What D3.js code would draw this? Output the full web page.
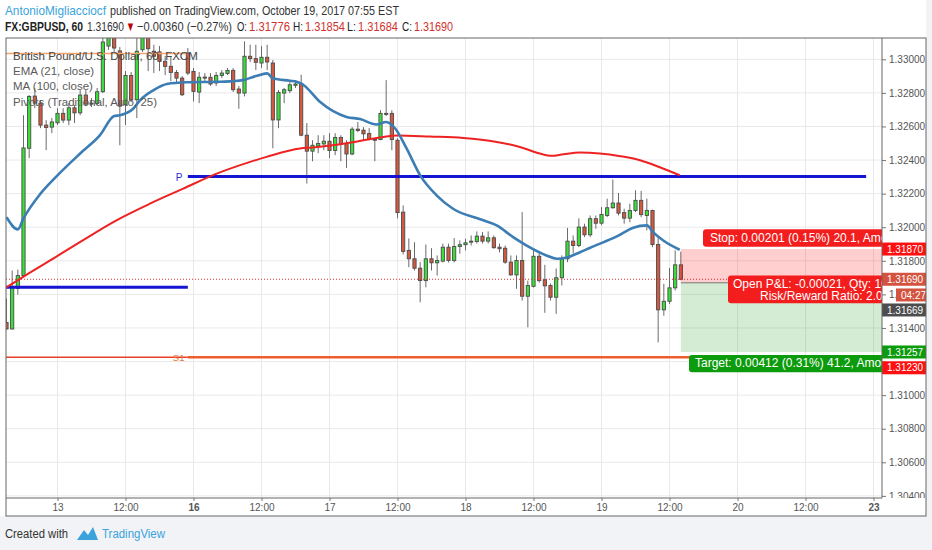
<!DOCTYPE html>
<html>
<head>
<meta charset="utf-8">
<script src="https://cdnjs.cloudflare.com/ajax/libs/d3/7.8.5/d3.min.js"></script>
<style>
  body { margin: 0; background: #f1f3f6; }
  svg { display: block; font-family: "Liberation Sans", Arial, sans-serif; }
</style>
</head>
<body>
<svg id="chart" width="932" height="550"></svg>
<script>
const width = 932;
const height = 550;


/*
* DATA (hourly GBPUSD bars, bar 0 = 13th 00:00)
*/

const firstBar = -9;

const opens = [
  1.31433, 1.31394, 1.31635, 1.31712, 1.32470, 1.32781, 1.32739, 1.32608, 1.32596,
  1.32622, 1.32678, 1.32638, 1.32711, 1.32681, 1.32787, 1.32733, 1.32737, 1.32807, 1.33079,
  1.33175, 1.33050, 1.32729, 1.32904, 1.32759, 1.33057, 1.33145, 1.33048, 1.33044, 1.32988,
  1.32958, 1.32922, 1.32888, 1.33038, 1.32928, 1.32805, 1.32888, 1.32893, 1.32859, 1.32904,
  1.32916, 1.32934, 1.32823, 1.32799, 1.33018, 1.33004, 1.32978, 1.33012, 1.32978, 1.32639,
  1.32799, 1.32813, 1.32845, 1.32857, 1.32548, 1.32453, 1.32484, 1.32496, 1.32512, 1.32457,
  1.32534, 1.32499, 1.32436, 1.32584, 1.32578, 1.32558, 1.32524, 1.32522, 1.32672, 1.32678,
  1.32518, 1.32090, 1.31862, 1.31812, 1.31756, 1.31682, 1.31812, 1.31788, 1.31798, 1.31881,
  1.31802, 1.31885, 1.31896, 1.31911, 1.31915, 1.31947, 1.31917, 1.31937, 1.31881, 1.31875,
  1.31792, 1.31716, 1.31802, 1.31589, 1.31648, 1.31827, 1.31687, 1.31653, 1.31583, 1.31699,
  1.31812, 1.31917, 1.31891, 1.32001, 1.31955, 1.32051, 1.32024, 1.32070, 1.32116, 1.32144,
  1.32087, 1.32054, 1.32100, 1.32160, 1.32070, 1.32100, 1.31897, 1.31508, 1.31559, 1.31639,
  1.31776
];

const highs = [
  1.31575, 1.31742, 1.31748, 1.32667, 1.32787, 1.32829, 1.32757, 1.32638, 1.32650,
  1.32709, 1.32709, 1.32739, 1.32727, 1.32817, 1.32817, 1.32769, 1.32829, 1.33139, 1.33205,
  1.33205, 1.33073, 1.32930, 1.32924, 1.33127, 1.33175, 1.33175, 1.33087, 1.33079, 1.33020,
  1.33020, 1.32936, 1.32900, 1.33067, 1.32948, 1.32924, 1.32918, 1.32918, 1.32924, 1.32936,
  1.32948, 1.32948, 1.32841, 1.33107, 1.33087, 1.33087, 1.33079, 1.33087, 1.32996, 1.32817,
  1.32829, 1.32864, 1.32876, 1.32908, 1.32620, 1.32518, 1.32548, 1.32548, 1.32560, 1.32560,
  1.32548, 1.32518, 1.32596, 1.32627, 1.32596, 1.32590, 1.32530, 1.32697, 1.32876, 1.32697,
  1.32530, 1.32130, 1.31933, 1.31911, 1.31792, 1.31897, 1.31875, 1.31832, 1.31902, 1.31902,
  1.31935, 1.31921, 1.31931, 1.31951, 1.31975, 1.31971, 1.31975, 1.31951, 1.31903, 1.31891,
  1.31832, 1.31832, 1.32090, 1.31682, 1.31873, 1.31850, 1.31776, 1.31665, 1.31754, 1.31832,
  1.31996, 1.31951, 1.32053, 1.32021, 1.32070, 1.32070, 1.32120, 1.32170, 1.32284, 1.32204,
  1.32110, 1.32140, 1.32220, 1.32216, 1.32170, 1.32104, 1.31951, 1.31663, 1.31758, 1.31862,
  1.31854
];

const lows = [
  1.31390, 1.31390, 1.31599, 1.31706, 1.32411, 1.32709, 1.32590, 1.32459, 1.32560,
  1.32608, 1.32620, 1.32608, 1.32620, 1.32667, 1.32721, 1.32715, 1.32727, 1.32799, 1.33056,
  1.33044, 1.32488, 1.32608, 1.32745, 1.32650, 1.33044, 1.32930, 1.32918, 1.32930, 1.32906,
  1.32870, 1.32859, 1.32781, 1.32906, 1.32749, 1.32739, 1.32864, 1.32841, 1.32841, 1.32888,
  1.32906, 1.32805, 1.32705, 1.32779, 1.32984, 1.32936, 1.32948, 1.32936, 1.32470, 1.32590,
  1.32739, 1.32799, 1.32829, 1.32542, 1.32260, 1.32393, 1.32441, 1.32459, 1.32411, 1.32429,
  1.32393, 1.32353, 1.32429, 1.32566, 1.32518, 1.32518, 1.32393, 1.32518, 1.32662, 1.32459,
  1.32053, 1.31838, 1.31762, 1.31742, 1.31553, 1.31642, 1.31742, 1.31712, 1.31790, 1.31790,
  1.31790, 1.31842, 1.31862, 1.31891, 1.31903, 1.31903, 1.31903, 1.31872, 1.31850, 1.31782,
  1.31712, 1.31633, 1.31563, 1.31404, 1.31641, 1.31670, 1.31490, 1.31563, 1.31484, 1.31653,
  1.31792, 1.31844, 1.31881, 1.31941, 1.31941, 1.31991, 1.32011, 1.32060, 1.32110, 1.32070,
  1.32021, 1.32030, 1.32090, 1.32060, 1.31981, 1.31881, 1.31314, 1.31473, 1.31543, 1.31623,
  1.31684
];

const closes = [
  1.31394, 1.31642, 1.31712, 1.32472, 1.32779, 1.32739, 1.32608, 1.32594, 1.32627,
  1.32678, 1.32638, 1.32711, 1.32681, 1.32787, 1.32733, 1.32739, 1.32807, 1.33103, 1.33175,
  1.33067, 1.32721, 1.32904, 1.32759, 1.33048, 1.33145, 1.33063, 1.33018, 1.32988, 1.32958,
  1.32922, 1.32888, 1.32789, 1.32918, 1.32809, 1.32893, 1.32894, 1.32853, 1.32904, 1.32918,
  1.32934, 1.32819, 1.32799, 1.33018, 1.33004, 1.32982, 1.33012, 1.32984, 1.32639, 1.32803,
  1.32819, 1.32848, 1.32853, 1.32548, 1.32453, 1.32488, 1.32499, 1.32512, 1.32457, 1.32534,
  1.32493, 1.32436, 1.32584, 1.32576, 1.32556, 1.32522, 1.32518, 1.32678, 1.32678, 1.32522,
  1.32087, 1.31856, 1.31812, 1.31756, 1.31682, 1.31812, 1.31788, 1.31802, 1.31881, 1.31802,
  1.31885, 1.31896, 1.31907, 1.31917, 1.31947, 1.31917, 1.31937, 1.31878, 1.31872, 1.31792,
  1.31716, 1.31802, 1.31589, 1.31653, 1.31827, 1.31682, 1.31651, 1.31583, 1.31699, 1.31812,
  1.31917, 1.31891, 1.32001, 1.31955, 1.32051, 1.32024, 1.32076, 1.32116, 1.32144, 1.32084,
  1.32054, 1.32100, 1.32160, 1.32075, 1.32100, 1.31897, 1.31508, 1.31559, 1.31639, 1.31776,
  1.31690
];

// EMA (21) at these bars
const emaBars = [-9, -7, -6, -3, 0, 4, 7.5, 10, 11, 13.4, 14.6, 17, 19.3, 22.8, 28, 31, 32.7,
  35, 37, 38, 41, 42.2, 43.4, 46.3, 51, 53.4, 56.3, 58, 59.6, 61.6, 64, 66.9, 69.8, 74.6,
  77.5, 80.4, 82.8, 86.3, 88.1, 89.9, 92.2, 94, 98.7, 101.6, 104, 105.1, 106.9, 109.8];
const emaValues = [1.32060, 1.31987, 1.32053, 1.32200, 1.32309, 1.32439, 1.32548, 1.32662,
  1.32667, 1.32707, 1.32757, 1.32817, 1.32853, 1.32863, 1.32866, 1.32870, 1.32876, 1.32900,
  1.32916, 1.32887, 1.32872, 1.32866, 1.32847, 1.32747, 1.32657, 1.32644, 1.32612, 1.32627,
  1.32588, 1.32469, 1.32309, 1.32190, 1.32110, 1.32047, 1.32011, 1.31941, 1.31891, 1.31832,
  1.31812, 1.31820, 1.31851, 1.31878, 1.31945, 1.31997, 1.32011, 1.31971, 1.31921, 1.31866];

// MA (100)
const maBars = [-9, -5.7, -1.3, 4.6, 10.4, 16.3, 22.2, 28.1, 34, 36.9, 42.8, 45.1, 51, 56.9,
  59.9, 65.7, 71.6, 77.5, 81.6, 85.1, 87.2, 89.3, 92.2, 95.7, 99.3, 102.8, 106.3, 109.8];
const maValues = [1.31642, 1.31712, 1.31802, 1.31925, 1.32041, 1.32140, 1.32230, 1.32319,
  1.32389, 1.32419, 1.32469, 1.32475, 1.32500, 1.32534, 1.32546, 1.32540, 1.32532, 1.32508,
  1.32478, 1.32439, 1.32425, 1.32435, 1.32445, 1.32439, 1.32423, 1.32399, 1.32357, 1.32309];

const timeTicks = [0, 12, 24, 36, 48, 60, 72, 84, 96, 108, 120, 132, 144];
const timeLabels = ["13", "12:00", "16", "12:00", "17", "12:00", "18", "12:00", "19",
  "12:00", "20", "12:00", "23"];
const boldLabels = ["16", "23"];

const priceTicks = [1.304, 1.306, 1.308, 1.310, 1.312, 1.314, 1.316, 1.318, 1.320, 1.322,
  1.324, 1.326, 1.328, 1.330];
const hiddenTicks = [1.312];   // fully covered by the S1 tag

// pivots: previous period ends / current period starts at pivotSwitchBar
const pivotSwitchBar = 23;
const pivotEndBar = 142.7;
const prevPivotP = 1.31642;
const prevPivotR = 1.33035;
const pivotP = 1.32302;
const pivotS1 = 1.31226;

// short position tool
const positionBar = 110;
const lastPrice = 1.31690;
const entryPrice = 1.31669;
const stopPrice = 1.31870;
const targetPrice = 1.31257;
const s1Tag = 1.31230;


/*
* LAYOUT
*/

const pane = { left: 6, top: 38, right: 882, bottom: 498 };
const frame = { right: 926, bottom: 516 };

const x = d3.scaleLinear().domain([0, 144]).range([57.5, 873.5]);
const y = d3.scaleLinear().domain([1.306, 1.330]).range([462.3, 59.3]);

const svg = d3.select("svg#chart");

svg.append("rect").attr("x", 0).attr("y", 0).attr("width", frame.right).attr("height", frame.bottom).attr("fill", "#fff");

const defs = svg.append("defs");
defs.append("clipPath").attr("id", "pane-clip").append("rect")
  .attr("x", pane.left).attr("y", pane.top)
  .attr("width", pane.right - pane.left).attr("height", pane.bottom - pane.top);
defs.append("clipPath").attr("id", "axis-clip").append("rect")
  .attr("x", pane.right).attr("y", pane.top)
  .attr("width", frame.right - pane.right).attr("height", pane.bottom - pane.top);

const bars = opens.map((o, k) => ({
  i: firstBar + k, o: o, h: highs[k], l: lows[k], c: closes[k]
}));


/* GRID */
const grid = svg.append("g").attr("id", "grid");
grid.selectAll("line.v").data(timeTicks).enter().append("line")
  .attr("x1", d => x(d)).attr("x2", d => x(d))
  .attr("y1", pane.top).attr("y2", pane.bottom)
  .attr("stroke", "#e9e9e9");
grid.selectAll("line.h").data(priceTicks).enter().append("line")
  .attr("x1", pane.left).attr("x2", pane.right)
  .attr("y1", d => y(d)).attr("y2", d => y(d))
  .attr("stroke", "#e9e9e9");

const plot = svg.append("g").attr("clip-path", "url(#pane-clip)");


/* CANDLES */
const bodyW = 3.2;
const candles = plot.append("g").attr("id", "candles");
candles.selectAll("line").data(bars).enter().append("line")
  .attr("x1", d => x(d.i)).attr("x2", d => x(d.i))
  .attr("y1", d => y(d.h)).attr("y2", d => y(d.l))
  .attr("stroke", "#6b6b6b").attr("stroke-width", 1);
candles.selectAll("rect").data(bars).enter().append("rect")
  .attr("x", d => x(d.i) - bodyW / 2)
  .attr("y", d => y(Math.max(d.o, d.c)))
  .attr("width", bodyW)
  .attr("height", d => Math.max(1, Math.abs(y(d.o) - y(d.c))))
  .attr("fill", d => d.c >= d.o ? "#38e038" : "#d5583f")
  .attr("stroke", "#4a4a4a").attr("stroke-width", 0.9);


/* PIVOTS */
const pivots = plot.append("g").attr("id", "pivots");
function hline(p, b0, b1, color, w) {
  pivots.append("line")
    .attr("x1", b0 === null ? pane.left : x(b0)).attr("x2", x(b1))
    .attr("y1", y(p)).attr("y2", y(p))
    .attr("stroke", color).attr("stroke-width", w);
}
hline(prevPivotR, null, pivotSwitchBar, "#f2a36b", 1.5);
hline(prevPivotP, null, pivotSwitchBar, "#1414d2", 3);
hline(pivotS1, null, pivotSwitchBar, "#e8402a", 1.5);
hline(pivotP, pivotSwitchBar, pivotEndBar, "#1414d2", 3);
hline(pivotS1, pivotSwitchBar, pivotEndBar, "#ec5e2c", 2.5);

pivots.append("text").attr("x", x(pivotSwitchBar) - 12).attr("y", y(pivotP) + 4)
  .attr("font-size", 10).attr("fill", "#2a2ad0").text("P");
pivots.append("text").attr("x", x(pivotSwitchBar) - 15).attr("y", y(pivotS1) + 4)
  .attr("font-size", 9.5).attr("fill", "#e8783a").text("S1");


/* MOVING AVERAGES */
const line = d3.line().x(d => x(d[0])).y(d => y(d[1])).curve(d3.curveMonotoneX);
plot.append("path").datum(maBars.map((b, k) => [b, maValues[k]]))
  .attr("d", line).attr("fill", "none").attr("stroke", "#ee2222").attr("stroke-width", 2);
plot.append("path").datum(emaBars.map((b, k) => [b, emaValues[k]]))
  .attr("d", line).attr("fill", "none").attr("stroke", "#3b7db4").attr("stroke-width", 2.6);


/* LAST PRICE LINE */
plot.append("line")
  .attr("x1", pane.left).attr("x2", pane.right)
  .attr("y1", y(lastPrice)).attr("y2", y(lastPrice))
  .attr("stroke", "#e03030").attr("stroke-width", 1).attr("stroke-dasharray", "1,2");


/* POSITION TOOL */
const pos = plot.append("g").attr("id", "position");
pos.append("rect")
  .attr("x", x(positionBar)).attr("y", y(stopPrice))
  .attr("width", pane.right - x(positionBar)).attr("height", y(entryPrice) - y(stopPrice))
  .attr("fill", "#ff0000").attr("fill-opacity", 0.19);
pos.append("rect")
  .attr("x", x(positionBar)).attr("y", y(entryPrice))
  .attr("width", pane.right - x(positionBar)).attr("height", y(targetPrice) - y(entryPrice))
  .attr("fill", "#22a022").attr("fill-opacity", 0.2);
pos.append("line")
  .attr("x1", x(positionBar)).attr("x2", pane.right)
  .attr("y1", y(entryPrice)).attr("y2", y(entryPrice))
  .attr("stroke", "#777").attr("stroke-width", 1);

function tag(g, x0, y0, h, color, lines, tx) {
  g.append("rect").attr("x", x0).attr("y", y0).attr("width", 260).attr("height", h)
    .attr("rx", 3).attr("fill", color);
  lines.forEach((t, k) => {
    g.append("text").attr("x", tx[k]).attr("y", y0 + 12.5 + k * 12.5)
      .attr("font-size", 12).attr("fill", "#fff").text(t);
  });
}
tag(pos, 703, y(stopPrice) - 19.7, 17.4, "#f41d1d",
  ["Stop: 0.00201 (0.15%) 20.1, Amount: 2.01"], [710]);
tag(pos, 728, y(entryPrice) - 7.3, 27.7, "#f41d1d",
  ["Open P&L: -0.00021, Qty: 1000", "Risk/Reward Ratio: 2.05"], [733, 760]);
tag(pos, 689, y(targetPrice) + 3, 17.2, "#0c9b0c",
  ["Target: 0.00412 (0.31%) 41.2, Amount: 4.12"], [695]);


/* PRICE AXIS */
const yAxis = d3.axisRight(y).tickValues(priceTicks)
  .tickFormat(d => hiddenTicks.includes(d) ? "" : d3.format(".5f")(d))
  .tickSize(4).tickPadding(3);
const yGroup = svg.append("g").attr("clip-path", "url(#axis-clip)")
  .append("g").attr("transform", translate(pane.right, 0)).call(yAxis);
yGroup.select(".domain").remove();
yGroup.selectAll(".tick line").attr("stroke", "#777");
yGroup.selectAll(".tick text").attr("fill", "#555").attr("font-size", 10)
  .attr("font-family", "Liberation Sans, Arial, sans-serif");

const tags = svg.append("g").attr("id", "price-tags");
function priceTag(cy, label, color, x0) {
  tags.append("rect").attr("x", x0 || pane.right).attr("y", cy - 6.5)
    .attr("width", frame.right - (x0 || pane.right)).attr("height", 13).attr("fill", color);
  tags.append("text").attr("x", (x0 || pane.right) + 5).attr("y", cy + 3.6)
    .attr("font-size", 10).attr("fill", "#fff").text(label);
}
priceTag(y(stopPrice), d3.format(".5f")(stopPrice), "#ff1010");
priceTag(y(lastPrice), d3.format(".5f")(lastPrice), "#d4533f");
priceTag(y(lastPrice) + 15.7, "04:27", "#d4533f", 896);
priceTag(y(lastPrice) + 30.7, d3.format(".5f")(entryPrice), "#4d4d4d");
priceTag(y(targetPrice), d3.format(".5f")(targetPrice), "#0c9b0c");
priceTag(y(targetPrice) + 15.8, d3.format(".5f")(s1Tag), "#ff1010");


/* TIME AXIS */
const xAxis = d3.axisBottom(x).tickValues(timeTicks).tickFormat((d, k) => timeLabels[k])
  .tickSize(3).tickPadding(3);
const xGroup = svg.append("g").attr("transform", translate(0, pane.bottom)).call(xAxis);
xGroup.select(".domain").remove();
xGroup.selectAll(".tick line").attr("stroke", "#777");
xGroup.selectAll(".tick text").attr("fill", "#555").attr("font-size", 10)
  .attr("font-family", "Liberation Sans, Arial, sans-serif")
  .attr("font-weight", d => boldLabels.includes(timeLabels[timeTicks.indexOf(d)]) ? "bold" : "normal");


/* FRAME */
svg.append("rect").attr("x", pane.left).attr("y", pane.top)
  .attr("width", frame.right - pane.left).attr("height", frame.bottom - pane.top)
  .attr("fill", "none").attr("stroke", "#666");
svg.append("line").attr("x1", pane.right).attr("x2", pane.right)
  .attr("y1", pane.top).attr("y2", pane.bottom).attr("stroke", "#666");
svg.append("line").attr("x1", pane.left).attr("x2", pane.right)
  .attr("y1", pane.bottom).attr("y2", pane.bottom).attr("stroke", "#666");


/* LEGEND */
const legend = svg.append("g").attr("font-size", 11.5);
const legendLines = ["British Pound/U.S. Dollar, 60, FXCM", "EMA (21, close)",
  "MA (100, close)", "Pivots (Traditional, Auto, 25)"];
legend.selectAll("text").data(legendLines).enter().append("text")
  .attr("x", 13).attr("y", (d, k) => 59.5 + k * 15.4)
  .attr("fill", (d, k) => k === 0 ? "#444" : "#5a5a5a")
  .text(d => d);


/* HEADER */
const head = svg.append("g").attr("font-family", "'Liberation Sans Narrow', 'Liberation Sans', sans-serif");
function headText(t, x0, y0, w, color, bold, size) {
  head.append("text").attr("x", x0).attr("y", y0)
    .attr("font-size", size || 13).attr("fill", color)
    .attr("font-weight", bold ? "bold" : "normal")
    .attr("textLength", w).attr("lengthAdjust", "spacingAndGlyphs").text(t);
}
headText("AntonioMigliacciocf", 5, 15, 101, "#3aa3dc");
headText("published on TradingView.com, October 19, 2017 07:55 EST", 110, 15, 289, "#333");
headText("FX:GBPUSD, 60", 5, 31, 78, "#222", true);
headText("1.31690", 87, 31, 37, "#333");
headText("\u25BC", 126, 31, 9, "#c00000");
headText("\u22120.00360 (\u22120.27%)", 137, 31, 95, "#333");
headText("O:", 237, 31, 10, "#222");
headText("1.31776", 249, 31, 41, "#d0312d");
headText("H:", 293, 31, 10, "#222");
headText("1.31854", 305, 31, 40, "#d0312d");
headText("L:", 347, 31, 9, "#222");
headText("1.31684", 358, 31, 40, "#d0312d");
headText("C:", 402, 31, 10, "#222");
headText("1.31690", 414, 31, 39, "#d0312d");


/* FOOTER */
headText("Created with", 5, 538, 63, "#333", false, 12.5);
svg.append("path")
  .attr("d", "M77,540 L84,530 L88,535 L93,527 L98,540 Z")
  .attr("fill", "#3aa3dc");
headText("TradingView", 102, 538, 63, "#3aa3dc", false, 12.5);


function translate(x, y) {
  return 'translate(' + String(x) + ',' + String(y) + ')';
}
</script>
</body>
</html>
